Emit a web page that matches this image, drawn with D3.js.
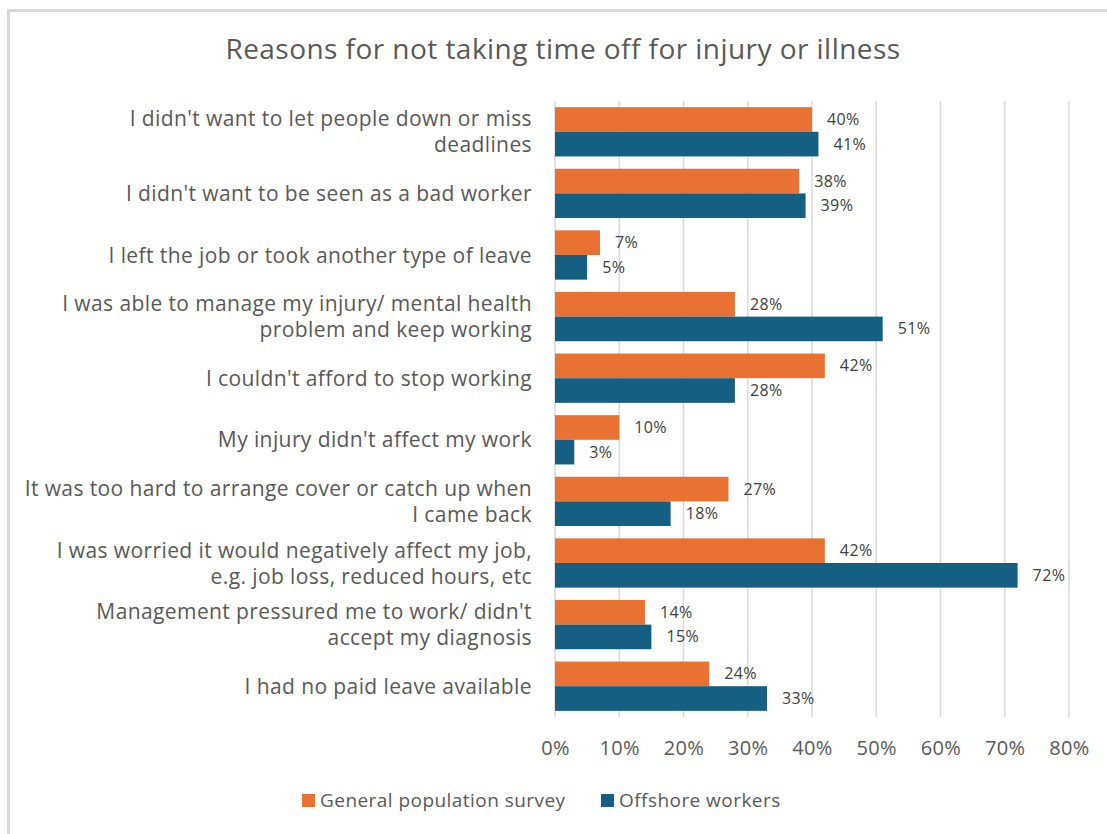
<!DOCTYPE html>
<html>
<head>
<meta charset="utf-8">
<script src="https://cdn.jsdelivr.net/npm/d3@7"></script>
<style>
  html, body { margin: 0; padding: 0; background: #fff; }
  svg { display: block; font-family: "Open Sans", "Liberation Sans", sans-serif; }
</style>
</head>
<body>
<svg id="chart" width="1107" height="834"></svg>
<script>
// Reasons (each entry split into display lines)
const categories = [
  ["I didn't want to let people down or miss", "deadlines"],
  ["I didn't want to be seen as a bad worker"],
  ["I left the job or took another type of leave"],
  ["I was able to manage my injury/ mental health", "problem and keep working"],
  ["I couldn't afford to stop working"],
  ["My injury didn't affect my work"],
  ["It was too hard to arrange cover or catch up when", "I came back"],
  ["I was worried it would negatively affect my job,", "e.g. job loss, reduced hours, etc"],
  ["Management pressured me to work/ didn't", "accept my diagnosis"],
  ["I had no paid leave available"]
];
const generalPopulation = [40, 38, 7, 28, 42, 10, 27, 42, 14, 24];
const offshoreWorkers   = [41, 39, 5, 51, 28, 3, 18, 72, 15, 33];
const seriesNames = ["General population survey", "Offshore workers"];
const seriesColors = ["#E97132", "#156082"];
const xTicks = [0, 10, 20, 30, 40, 50, 60, 70, 80];
const title = "Reasons for not taking time off for injury or illness";

const svg = d3.select("#chart");
const textColor = "#595959";

// chart frame
svg.append("rect")
  .attr("x", 8.5).attr("y", 10.5)
  .attr("width", 1120).attr("height", 840)
  .attr("fill", "none").attr("stroke", "#d9d9d9").attr("stroke-width", 3);

const plot = { left: 555, right: 1069, top: 101, bottom: 717 };

const x = d3.scaleLinear().domain([0, 80]).range([plot.left, plot.right]);
const y = d3.scaleBand().domain(d3.range(categories.length))
  .range([plot.top, plot.bottom]).paddingInner(0.2).paddingOuter(0.1);
const ySub = d3.scaleBand().domain([0, 1]).range([0, y.bandwidth()]);

// title
svg.append("text")
  .attr("x", 563).attr("y", 59)
  .attr("text-anchor", "middle")
  .attr("font-size", 28).attr("letter-spacing", 0.45).attr("fill", textColor)
  .text(title);

// vertical gridlines
svg.append("g").selectAll("line").data(xTicks).join("line")
  .attr("x1", d => x(d)).attr("x2", d => x(d))
  .attr("y1", plot.top).attr("y2", plot.bottom)
  .attr("stroke", "#d9d9d9").attr("stroke-width", 1.5);

// x axis tick labels
const xAxis = d3.axisBottom(x).tickValues(xTicks).tickSize(0).tickPadding(0)
  .tickFormat(d => d + "%");
const gx = svg.append("g").attr("transform", `translate(0,${plot.bottom + 38})`).call(xAxis);
gx.select(".domain").remove();
gx.selectAll("text").attr("font-size", 20).attr("fill", textColor).attr("letter-spacing", 0.3)
  .attr("font-family", "\"Open Sans\", \"Liberation Sans\", sans-serif").attr("dy", 0);

// category labels
const catG = svg.append("g");
categories.forEach((lines, i) => {
  const cy = y(i) + y.bandwidth() / 2;
  const lh = 26;
  const t = catG.append("text")
    .attr("text-anchor", "end")
    .attr("font-size", 21).attr("letter-spacing", 0.4).attr("fill", textColor);
  lines.forEach((ln, k) => {
    t.append("tspan")
      .attr("x", 532)
      .attr("y", cy + (k - (lines.length - 1) / 2) * lh + 7.5)
      .text(ln);
  });
});

// bars
const series = [generalPopulation, offshoreWorkers];
series.forEach((vals, s) => {
  const g = svg.append("g");
  g.selectAll("rect").data(vals).join("rect")
    .attr("x", x(0))
    .attr("y", (d, i) => y(i) + ySub(s))
    .attr("width", d => x(d) - x(0))
    .attr("height", ySub.bandwidth())
    .attr("fill", seriesColors[s]);
  g.selectAll("text").data(vals).join("text")
    .attr("x", d => x(d) + 15)
    .attr("y", (d, i) => y(i) + ySub(s) + ySub.bandwidth() / 2 + 5.5)
    .attr("font-size", 16).attr("letter-spacing", 0.4).attr("fill", "#404040")
    .text(d => d + "%");
});

// legend
const legendItems = [
  { name: seriesNames[0], color: seriesColors[0], x: 302 },
  { name: seriesNames[1], color: seriesColors[1], x: 601 }
];
const lg = svg.append("g");
legendItems.forEach(it => {
  lg.append("rect").attr("x", it.x).attr("y", 794).attr("width", 13).attr("height", 13).attr("fill", it.color);
  lg.append("text").attr("x", it.x + 18).attr("y", 807)
    .attr("font-size", 19).attr("letter-spacing", 0.45).attr("fill", textColor).text(it.name);
});
</script>
</body>
</html>
